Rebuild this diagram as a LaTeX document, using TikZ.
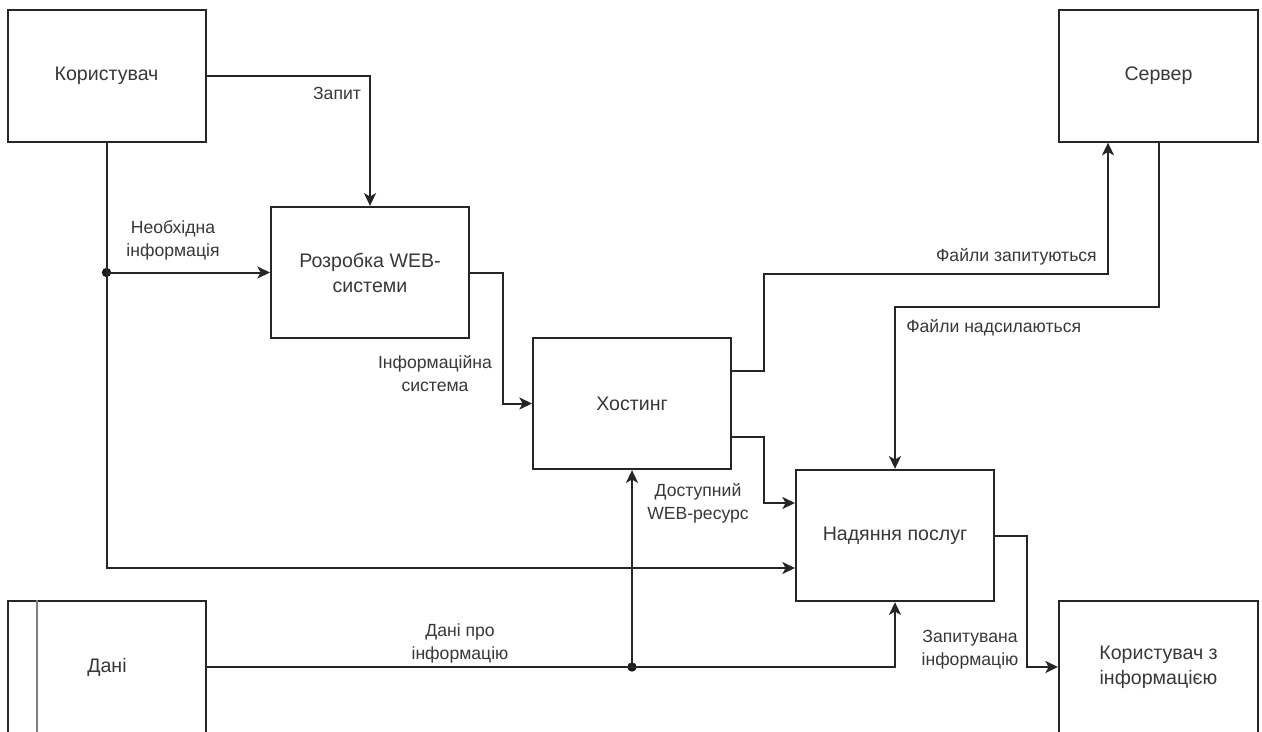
\documentclass[tikz,border=0pt]{standalone}
\usepackage{fontspec}
\setmainfont{Liberation Sans}
\usetikzlibrary{arrows.meta,calc}
\begin{document}
\begin{tikzpicture}[x=0.75pt,y=-0.75pt,
  box/.style={draw=black!85, line width=1.5pt, minimum width=148.5pt, minimum height=98.5pt,
    inner sep=0pt, align=center, font=\fontsize{14.7}{18.75}\selectfont, text=black!78},
  lbl/.style={font=\fontsize{13.2}{17.25}\selectfont, text=black!78, align=center, inner sep=0pt},
  ln/.style={draw=black!85, line width=1.5pt},
  arr/.style={ln, -{Stealth[length=9.5pt,width=9pt,inset=2.5pt]}},
  dot/.style={circle, fill=black!90, inner sep=0pt, minimum size=7pt}
]
\useasboundingbox (0,0) rectangle (1262,731);
\clip (0,0) rectangle (1262,731);
\fill[white] (0,0) rectangle (1262,731);

% boxes
\node[box] (user) at (106.5,76) {Користувач};
\node[box, minimum width=149.25pt] (server) at (1158.5,76) {Сервер};
\node[box] (dev) at (370,272.5) {Розробка WEB-\\системи};
\node[box] (host) at (632,403.5) {Хостинг};
\node[box] (serv) at (895,535.5) {Надяння послуг};
\node[box] (data) at (107,667) {Дані};
\node[box, minimum width=149.25pt] (uinfo) at (1158.5,667) {Користувач з\\інформацією};
\draw[draw=black!50, line width=1.5pt] ($(data.north west)+(30,0)$) -- ($(data.south west)+(30,0)$);

% junctions
\node[dot] (j1) at (user.south |- dev.west) {};
\node[dot] (j2) at (host.south |- data.east) {};

% connectors
\draw[arr] (user.east) -| (dev.north);
\draw[arr] (user.south) |- ($(serv.west)+(0,32.5)$);
\draw[arr] (j1.center) -- (dev.west);
\draw[arr] (dev.east) -- ++(33,0) |- (host.west);
\draw[arr] ($(host.east)+(0,-32.5)$) -- ++(32,0) |- ($(server.south)+(-50.5,131)$) -- ($(server.south)+(-50.5,0)$);
\draw[arr] (server.south) -- ++(0,164) -| (serv.north);
\draw[arr] ($(host.east)+(0,33.5)$) -- ++(32,0) |- ($(serv.west)+(0,-32.5)$);
\draw[arr] (data.east) -| (serv.south);
\draw[arr] (j2.center) -- (host.south);
\draw[arr] (serv.east) -- ++(32,0) |- (uinfo.west);

% labels
\node[lbl] (l1) at (337,93) {Запит};
\node[lbl] (l2) at (173,240) {Необхідна\\інформація};
\node[lbl] (l3) at (435,374) {Інформаційна\\система};
\node[lbl, anchor=east] (l4) at (1097,257) {Файли запитуються};
\node[lbl, anchor=west] (l5) at (906,328) {Файли надсилаються};
\node[lbl] (l6) at (698,503) {Доступний\\WEB-ресурс};
\node[lbl] (l7) at (460,643) {Дані про\\інформацію};
\node[lbl] (l8) at (970,650) {Запитувана\\інформацію};
\end{tikzpicture}
\end{document}
